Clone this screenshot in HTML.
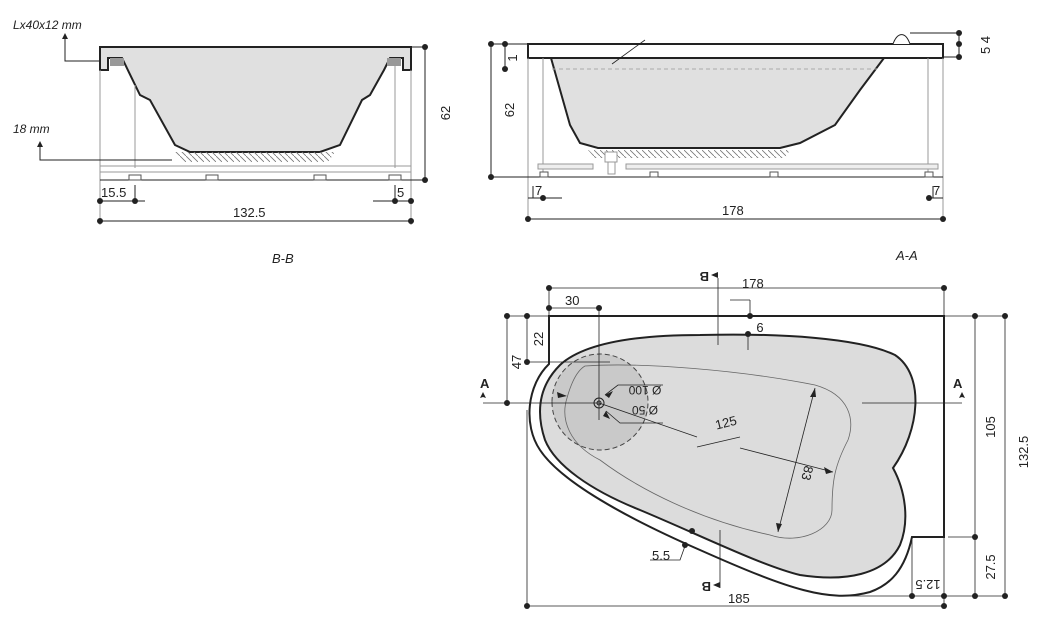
<!DOCTYPE html>
<html><head><meta charset="utf-8"><style>
html,body{margin:0;padding:0;background:#fff;}
svg{display:block;}
text{font-family:"Liberation Sans",sans-serif;fill:#222;}
</style></head><body>
<svg width="1040" height="634" viewBox="0 0 1040 634" xmlns="http://www.w3.org/2000/svg">
<defs>
<pattern id="h" width="6" height="6" patternUnits="userSpaceOnUse"><path d="M0 0L6 6" stroke="#777" stroke-width="0.8"/></pattern>
</defs>
<g stroke="#222" fill="none" stroke-width="1">
<!-- ===== B-B ===== -->
<path d="M100 47H411V70H403V58H390L384 70 370 95 362 100 340 145 320 152H190L175 145 150 100 140 95 122 58H108V70H100Z" fill="#e0e0e0" stroke-width="2"/>
<rect x="110" y="58" width="14" height="8" fill="#999" stroke="none"/>
<rect x="387" y="58" width="14" height="8" fill="#999" stroke="none"/>
<path d="M175 152H335L328 162H185Z" fill="url(#h)" stroke="none"/>
<g stroke="#999"><line x1="100" y1="70" x2="100" y2="225"/><line x1="411" y1="70" x2="411" y2="225"/>
<line x1="135" y1="85" x2="135" y2="168"/><line x1="395" y1="62" x2="395" y2="168"/>
<line x1="100" y1="166" x2="411" y2="166"/><line x1="100" y1="172" x2="411" y2="172"/></g>
<line x1="100" y1="180" x2="425" y2="180"/>
<g fill="#fff" stroke="#555"><rect x="129" y="175" width="12" height="5"/><rect x="206" y="175" width="12" height="5"/><rect x="314" y="175" width="12" height="5"/><rect x="389" y="175" width="12" height="5"/></g>
<line x1="425" y1="47" x2="425" y2="180"/><line x1="411" y1="47" x2="425" y2="47"/>
<line x1="100" y1="201" x2="145" y2="201"/><line x1="135" y1="185" x2="135" y2="201"/>
<line x1="373" y1="201" x2="411" y2="201"/><line x1="395" y1="185" x2="395" y2="201"/>
<line x1="100" y1="221" x2="411" y2="221"/>
<path d="M65 38V61H100M40 146V160H172" />
</g>
<g fill="#222">
<path d="M65 33l-3 6h6z M40 141l-3 6h6z"/>
<circle cx="425" cy="47" r="3"/><circle cx="425" cy="180" r="3"/>
<circle cx="100" cy="201" r="3"/><circle cx="135" cy="201" r="3"/><circle cx="395" cy="201" r="3"/><circle cx="411" cy="201" r="3"/>
<circle cx="100" cy="221" r="3"/><circle cx="411" cy="221" r="3"/>
</g>
<text x="13" y="29" font-size="12" font-style="italic">Lx40x12 mm</text>
<text x="13" y="133" font-size="12" font-style="italic">18 mm</text>
<text x="101" y="197" font-size="13">15.5</text>
<text x="397" y="197" font-size="13">5</text>
<text x="233" y="217" font-size="13">132.5</text>
<text x="450" y="113" font-size="13" transform="rotate(-90 450 113)" text-anchor="middle">62</text>
<text x="272" y="263" font-size="13" font-style="italic">B-B</text>

<!-- ===== A-A ===== -->
<g stroke="#222" fill="none" stroke-width="1">
<path d="M551 58H884L860 90 835 125 800 143 780 148H598L580 143 570 125Z" fill="#e0e0e0" stroke-width="2"/>
<rect x="528" y="44" width="415" height="14" fill="#fff" stroke-width="2"/>
<path d="M893 44C897 33 905 30 910 44" fill="#fff"/>
<path d="M588 150H790L785 158H595Z" fill="url(#h)" stroke="none"/>
<line x1="552" y1="69" x2="877" y2="69" stroke="#aaa" stroke-dasharray="4 3"/>
<line x1="612" y1="64" x2="645" y2="40" stroke-width="0.8"/>
<g stroke="#999"><line x1="528" y1="58" x2="528" y2="222"/><line x1="943" y1="58" x2="943" y2="222"/>
<line x1="543" y1="58" x2="543" y2="175"/><line x1="928" y1="58" x2="928" y2="175"/>
<rect x="538" y="164" width="55" height="5" fill="#eee"/><rect x="626" y="164" width="312" height="5" fill="#eee"/>
<rect x="605" y="152" width="12" height="10" fill="#fff"/><rect x="608" y="162" width="7" height="12" fill="#fff"/></g>
<line x1="491" y1="177" x2="943" y2="177"/>
<g fill="#fff" stroke="#555"><rect x="540" y="172" width="8" height="5"/><rect x="650" y="172" width="8" height="5"/><rect x="770" y="172" width="8" height="5"/><rect x="925" y="172" width="8" height="5"/></g>
<line x1="491" y1="44" x2="491" y2="177"/><line x1="491" y1="44" x2="528" y2="44"/>
<line x1="505" y1="44" x2="505" y2="69"/>
<line x1="910" y1="33" x2="959" y2="33"/><line x1="943" y1="57" x2="959" y2="57"/><line x1="959" y1="33" x2="959" y2="57"/>
<line x1="528" y1="198" x2="562" y2="198"/><line x1="533" y1="186" x2="533" y2="198"/>
<line x1="929" y1="198" x2="943" y2="198"/><line x1="933" y1="186" x2="933" y2="198"/>
<line x1="528" y1="219" x2="943" y2="219"/>
</g>
<g fill="#222">
<circle cx="491" cy="44" r="3"/><circle cx="491" cy="177" r="3"/><circle cx="505" cy="44" r="3"/><circle cx="505" cy="69" r="3"/>
<circle cx="959" cy="33" r="3"/><circle cx="959" cy="44" r="3"/><circle cx="959" cy="57" r="3"/>
<circle cx="543" cy="198" r="3"/><circle cx="929" cy="198" r="3"/><circle cx="528" cy="219" r="3"/><circle cx="943" cy="219" r="3"/>
</g>
<text x="514" y="110" font-size="13" transform="rotate(-90 514 110)" text-anchor="middle">62</text>
<text x="517" y="58" font-size="13" transform="rotate(-90 517 58)" text-anchor="middle">1</text>
<text x="990" y="45" font-size="13" transform="rotate(-90 990 45)" text-anchor="middle">5 4</text>
<text x="535" y="195" font-size="13">7</text>
<text x="933" y="195" font-size="13">7</text>
<text x="722" y="215" font-size="13">178</text>
<text x="896" y="260" font-size="13" font-style="italic">A-A</text>

<!-- ===== PLAN ===== -->
<g stroke="#222" fill="none">
<path d="M549 316H944V537H912C905 570 890 585 870 592C830 603 790 590 700 550C620 515 560 480 540 450C523 425 527 385 549 364Z" fill="#fff" stroke-width="2"/>
<path d="M560 365C585 342 640 335 700 335C780 333 860 338 895 355C925 375 920 430 893 468C905 490 910 520 900 545C885 575 845 582 800 575C760 565 700 535 640 510C590 490 555 465 545 440C535 410 540 385 560 365Z" fill="#dcdcdc" stroke-width="2"/>
<path d="M600 402m-48 0a48 48 0 1 0 96 0a48 48 0 1 0 -96 0" fill="#c9c9c9" stroke="#444" stroke-dasharray="5 3"/>
<path d="M585 366C640 362 740 370 815 385C850 395 855 420 848 440C835 465 832 480 832 510C832 530 800 545 770 535C700 520 640 490 600 460C570 445 560 420 567 398C572 380 578 370 585 366Z" stroke="#666" stroke-width="0.8"/>
<circle cx="599" cy="403" r="5"/><circle cx="599" cy="403" r="2"/>
<g stroke-width="0.8">
<line x1="483" y1="403" x2="600" y2="403"/><line x1="862" y1="403" x2="962" y2="403"/>
<line x1="718" y1="278" x2="718" y2="345"/><line x1="720" y1="530" x2="720" y2="588"/>
<line x1="599" y1="308" x2="599" y2="420"/>
<line x1="730" y1="300" x2="750" y2="300"/><line x1="750" y1="300" x2="750" y2="316"/><line x1="748" y1="334" x2="748" y2="350"/>
<line x1="599" y1="403" x2="697" y2="437"/><line x1="740" y1="448" x2="833" y2="472"/>
<line x1="697" y1="447" x2="740" y2="437"/>
<line x1="815" y1="388" x2="778" y2="532"/>
<path d="M605 395L618 385H663M606 411L620 423H663"/>
<path d="M685 546L680 560H650"/>
<line x1="549" y1="288" x2="944" y2="288"/><line x1="549" y1="288" x2="549" y2="316"/><line x1="944" y1="288" x2="944" y2="316"/>
<line x1="549" y1="308" x2="599" y2="308"/>
<line x1="507" y1="316" x2="549" y2="316"/><line x1="507" y1="316" x2="507" y2="403"/>
<line x1="527" y1="316" x2="527" y2="362"/><line x1="527" y1="362" x2="610" y2="362"/>
<line x1="944" y1="316" x2="1005" y2="316"/><line x1="975" y1="316" x2="975" y2="596"/><line x1="1005" y1="316" x2="1005" y2="596"/>
<line x1="948" y1="537" x2="975" y2="537"/><line x1="850" y1="596" x2="1005" y2="596"/>
<line x1="527" y1="410" x2="527" y2="606"/><line x1="944" y1="537" x2="944" y2="606"/><line x1="527" y1="606" x2="944" y2="606"/>
<line x1="912" y1="540" x2="912" y2="596"/>
</g>
</g>
<g fill="#222">
<path d="M483 403v-6l-3 1 3-6 3 6-3-1z M962 403v-6l-3 1 3-6 3 6-3-1z"/>
<path d="M718 278l-7-3 7-3z M720 588l-7-3 7-3z"/>
<path d="M557 392l10 4-9 2z M605 395l8-4-4 7z M606 411l4 8-7-3z M833 472l-9-5 2 7z M815 388l-5 9 6 0z M778 532l-2-9 6 1z"/>
<circle cx="549" cy="288" r="3"/><circle cx="944" cy="288" r="3"/><circle cx="549" cy="308" r="3"/><circle cx="599" cy="308" r="3"/>
<circle cx="507" cy="316" r="3"/><circle cx="527" cy="316" r="3"/><circle cx="527" cy="362" r="3"/><circle cx="507" cy="403" r="3"/>
<circle cx="750" cy="316" r="3"/><circle cx="748" cy="334" r="3"/>
<circle cx="975" cy="316" r="3"/><circle cx="1005" cy="316" r="3"/><circle cx="975" cy="537" r="3"/><circle cx="975" cy="596" r="3"/><circle cx="1005" cy="596" r="3"/>
<circle cx="912" cy="596" r="3"/><circle cx="944" cy="596" r="3"/><circle cx="527" cy="606" r="3"/><circle cx="944" cy="606" r="3"/>
<circle cx="692" cy="531" r="3"/><circle cx="685" cy="545" r="3"/>
</g>
<text x="697" y="280" font-size="13" font-weight="bold" transform="rotate(180 703 276)">B</text>
<text x="699" y="590" font-size="13" font-weight="bold" transform="rotate(180 705 586)">B</text>
<text x="480" y="388" font-size="13" font-weight="bold">A</text>
<text x="953" y="388" font-size="13" font-weight="bold">A</text>
<text x="742" y="288" font-size="13">178</text>
<text x="565" y="305" font-size="13">30</text>
<text x="543" y="339" font-size="13" transform="rotate(-90 543 339)" text-anchor="middle">22</text>
<text x="521" y="362" font-size="13" transform="rotate(-90 521 362)" text-anchor="middle">47</text>
<text x="760" y="323" font-size="13" transform="rotate(180 760 323)" text-anchor="middle">9</text>
<text x="645" y="386" font-size="12" transform="rotate(180 645 386)" text-anchor="middle">Ø 100</text>
<text x="645" y="406" font-size="12" transform="rotate(180 645 406)" text-anchor="middle">Ø 50</text>
<text x="727" y="427" font-size="13" transform="rotate(-14 727 427)" text-anchor="middle">125</text>
<text x="803" y="472" font-size="13" transform="rotate(104 803 472)" text-anchor="middle">83</text>
<text x="652" y="560" font-size="13">5.5</text>
<text x="928" y="580" font-size="13" transform="rotate(180 928 580)" text-anchor="middle">12.5</text>
<text x="728" y="603" font-size="13">185</text>
<text x="995" y="427" font-size="13" transform="rotate(-90 995 427)" text-anchor="middle">105</text>
<text x="1028" y="452" font-size="13" transform="rotate(-90 1028 452)" text-anchor="middle">132.5</text>
<text x="995" y="567" font-size="13" transform="rotate(-90 995 567)" text-anchor="middle">27.5</text>
</svg>
</body></html>
